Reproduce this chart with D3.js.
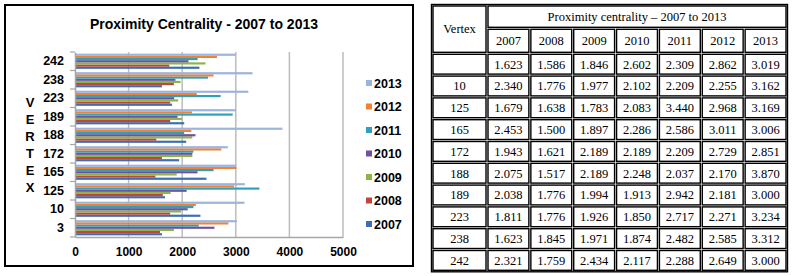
<!DOCTYPE html>
<html>
<head>
<meta charset="utf-8">
<script src="https://cdn.jsdelivr.net/npm/d3@7"></script>
<style>
  html, body { margin: 0; padding: 0; background: #fff; }
  svg { display: block; }
</style>
</head>
<body>
<svg id="chart"></svg>
<script>
// données (valeurs x1000, comme dans le graphique)
const vertices = ["3", "10", "125", "165", "172", "188", "189", "223", "238", "242"];
const tableVertices = ["", "10", "125", "165", "172", "188", "189", "223", "238", "242"];
const years = ["2007", "2008", "2009", "2010", "2011", "2012", "2013"];
const v2007 = [1623, 2340, 1679, 2453, 1943, 2075, 2038, 1811, 1623, 2321];
const v2008 = [1586, 1776, 1638, 1500, 1621, 1517, 1776, 1776, 1845, 1759];
const v2009 = [1846, 1977, 1783, 1897, 2189, 2189, 1994, 1926, 1971, 2434];
const v2010 = [2602, 2102, 2083, 2286, 2189, 2248, 1913, 1850, 1874, 2117];
const v2011 = [2309, 2209, 3440, 2586, 2209, 2037, 2942, 2717, 2482, 2288];
const v2012 = [2862, 2255, 2968, 3011, 2729, 2170, 2181, 2271, 2585, 2649];
const v2013 = [3019, 3162, 3169, 3006, 2851, 3870, 3000, 3234, 3312, 3000];
const xTicks = [0, 1000, 2000, 3000, 4000, 5000];
const axisLetters = ["V", "E", "R", "T", "E", "X"];

const series = [v2007, v2008, v2009, v2010, v2011, v2012, v2013];
const colors = ["#3d6db3", "#c0453f", "#8cb543", "#71519f", "#2f9fba", "#ee8236", "#9cb3dc"];

const svg = d3.select("#chart").attr("width", 798).attr("height", 276);
const sans = "'Liberation Sans', Arial, sans-serif";
const serif = "'Liberation Serif', 'Times New Roman', serif";

// ---- graphique à gauche ----
svg.append("rect")
  .attr("x", 5).attr("y", 5).attr("width", 408).attr("height", 261)
  .attr("fill", "#fff").attr("stroke", "#000").attr("stroke-width", 2);

svg.append("text")
  .attr("x", 204).attr("y", 29)
  .attr("text-anchor", "middle")
  .attr("font-family", sans).attr("font-weight", "bold").attr("font-size", 14)
  .text("Proximity Centrality - 2007 to 2013");

const x = d3.scaleLinear().domain([0, 5000]).range([75, 343]);
// 3 en bas, 242 en haut
const y = d3.scaleBand().domain(vertices.slice().reverse()).range([52, 237]);
const yInner = d3.scaleBand().domain(years.slice().reverse())
  .range([y.bandwidth() * 0.09, y.bandwidth() * 0.91]);

// grille verticale
svg.append("g")
  .selectAll("line")
  .data(xTicks.slice(1))
  .join("line")
  .attr("x1", d => x(d)).attr("x2", d => x(d))
  .attr("y1", 52).attr("y2", 237)
  .attr("stroke", "#bcbcbc").attr("stroke-width", 1.5);

// barres
const groups = svg.append("g")
  .selectAll("g")
  .data(vertices)
  .join("g")
  .attr("transform", d => `translate(0,${y(d)})`);

groups.selectAll("rect")
  .data((d, i) => years.map((yr, k) => ({ year: yr, value: series[k][i], color: colors[k] })))
  .join("rect")
  .attr("x", x(0))
  .attr("y", d => yInner(d.year))
  .attr("width", d => x(d.value) - x(0))
  .attr("height", yInner.bandwidth())
  .attr("fill", d => d.color);

// axe des x
const xAxis = svg.append("g")
  .attr("transform", "translate(0,237)")
  .call(d3.axisBottom(x).tickValues(xTicks).tickSize(0).tickPadding(10).tickFormat(d3.format("d")));
xAxis.select(".domain").attr("stroke", "#a6a6a6").attr("stroke-width", 1.5);
xAxis.selectAll("text")
  .attr("font-family", sans).attr("font-weight", "bold").attr("font-size", 12).attr("fill", "#000");

// axe des y
const yAxis = svg.append("g")
  .attr("transform", `translate(${x(0)},0)`)
  .call(d3.axisLeft(y).tickSize(0).tickPadding(11));
yAxis.select(".domain").attr("stroke", "#a6a6a6").attr("stroke-width", 1.5);
yAxis.selectAll("text")
  .attr("font-family", sans).attr("font-weight", "bold").attr("font-size", 12.5).attr("fill", "#000");

// petites graduations entre les catégories
svg.append("g")
  .selectAll("line")
  .data(vertices.concat(["end"]))
  .join("line")
  .attr("x1", x(0) - 5).attr("x2", x(0))
  .attr("y1", (d, i) => 237 - i * y.step())
  .attr("y2", (d, i) => 237 - i * y.step())
  .attr("stroke", "#a6a6a6").attr("stroke-width", 1.2);

// titre vertical "VERTEX"
svg.append("g")
  .selectAll("text")
  .data(axisLetters)
  .join("text")
  .attr("x", 30)
  .attr("y", (d, i) => 107 + i * 17)
  .attr("text-anchor", "middle")
  .attr("font-family", sans).attr("font-weight", "bold").attr("font-size", 13)
  .text(d => d);

// légende (2013 en haut)
const legend = svg.append("g")
  .selectAll("g")
  .data(years.map((yr, k) => ({ year: yr, color: colors[k] })).reverse())
  .join("g")
  .attr("transform", (d, i) => `translate(366,${83 + i * 23.5})`);
legend.append("rect")
  .attr("x", 0).attr("y", -3).attr("width", 6).attr("height", 6)
  .attr("fill", d => d.color);
legend.append("text")
  .attr("x", 8).attr("y", 4.5)
  .attr("font-family", sans).attr("font-weight", "bold").attr("font-size", 12.5)
  .text(d => d.year);

// ---- tableau à droite ----
const colX = d3.scaleBand().domain(years).range([487, 787]);
const tableLeft = 432;
const rowY = d3.scaleBand().domain(tableVertices.map((v, i) => i)).range([53.3, 271.3]);

const table = svg.append("g");

function cell(x0, y0, w, h, txt) {
  table.append("rect")
    .attr("x", x0 + 1).attr("y", y0 + 1)
    .attr("width", w - 2).attr("height", h - 2)
    .attr("fill", "#fff").attr("stroke", "#000").attr("stroke-width", 1.4);
  table.append("text")
    .attr("x", x0 + w / 2).attr("y", y0 + h / 2 + 4.3)
    .attr("text-anchor", "middle")
    .attr("font-family", serif).attr("font-size", 12.5)
    .text(txt);
}

table.append("rect")
  .attr("x", tableLeft - 0.5).attr("y", 4.5)
  .attr("width", 787 - tableLeft + 1).attr("height", 271.3 - 4.5 + 0.5)
  .attr("fill", "#fff").attr("stroke", "#000").attr("stroke-width", 1.4);

cell(tableLeft, 5, 487 - tableLeft, 48.3, "Vertex");
cell(487, 5, 300, 23.3, "Proximity centrality \u2013 2007 to 2013");
years.forEach(yr => cell(colX(yr), 28.3, colX.bandwidth(), 25, yr));

tableVertices.forEach((v, i) => {
  cell(tableLeft, rowY(i), 487 - tableLeft, rowY.bandwidth(), v);
  years.forEach((yr, k) => {
    cell(colX(yr), rowY(i), colX.bandwidth(), rowY.bandwidth(), (series[k][i] / 1000).toFixed(3));
  });
});
</script>
</body>
</html>
